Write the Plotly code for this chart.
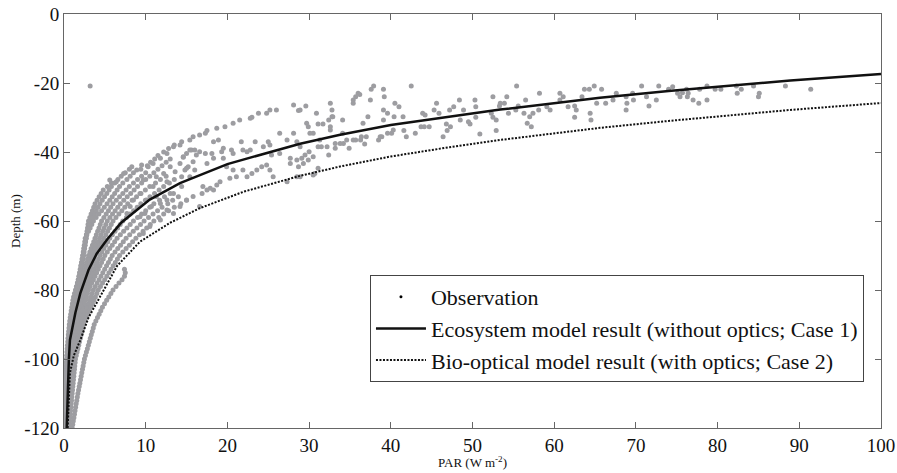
import plotly.graph_objects as go

# ---------------- data ----------------
# measurement depth levels of the deep profiles (1 m spacing)
DEPTH_LEVELS = list(range(-120, -37))

# PAR of individual observed profiles, starting at -120 m and going up 1 m per value
PROFILE_1 = [0.05, 0.06, 0.06, 0.07, 0.08, 0.08, 0.09, 0.10, 0.10, 0.11, 0.12,
             0.14, 0.16, 0.17, 0.19, 0.21, 0.23, 0.25, 0.26, 0.28, 0.30,
             0.33, 0.36, 0.39, 0.42, 0.46, 0.49, 0.53, 0.57, 0.61, 0.65,
             0.70, 0.76, 0.82, 0.88, 0.95, 1.02, 1.09, 1.17, 1.28, 1.40,
             1.52, 1.64, 1.76, 1.88, 2.00, 2.08, 2.16, 2.24, 2.32, 2.40,
             2.46, 2.52, 2.58, 2.64, 2.70, 2.76, 2.82, 2.88, 2.94, 3.00,
             3.16, 3.32, 3.48, 3.64, 3.80, 4.05, 4.30, 4.55, 4.80, 5.30, 5.80]
PROFILE_2 = [0.08, 0.10, 0.11, 0.13, 0.14, 0.16, 0.17, 0.19, 0.20, 0.22, 0.23,
             0.25, 0.26, 0.28, 0.29, 0.31, 0.32, 0.34, 0.35, 0.37, 0.38,
             0.42, 0.46, 0.50, 0.54, 0.58, 0.62, 0.66, 0.70, 0.74, 0.78,
             0.85, 0.92, 1.00, 1.07, 1.14, 1.21, 1.28, 1.36, 1.43, 1.50,
             1.58, 1.66, 1.74, 1.82, 1.90, 1.98, 2.06, 2.14, 2.22, 2.30,
             2.36, 2.42, 2.48, 2.54, 2.60, 2.74, 2.88, 3.02, 3.16, 3.30,
             3.52, 3.74, 3.96, 4.18, 4.40, 4.68, 4.96, 5.24, 5.52, 5.80,
             6.2, 6.6, 7.0, 7.5, 8.0]
PROFILE_3 = [0.10, 0.11, 0.12, 0.13, 0.14, 0.15, 0.16, 0.17, 0.18, 0.19, 0.20,
             0.22, 0.25, 0.27, 0.30, 0.32, 0.35, 0.37, 0.40, 0.42, 0.45,
             0.49, 0.54, 0.58, 0.63, 0.67, 0.72, 0.76, 0.81, 0.85, 0.90,
             0.97, 1.04, 1.11, 1.18, 1.25, 1.32, 1.39, 1.46, 1.53, 1.60,
             1.67, 1.74, 1.81, 1.88, 1.95, 2.02, 2.09, 2.16, 2.23, 2.30,
             2.38, 2.47, 2.55, 2.63, 2.72, 2.80, 3.0, 3.2, 3.4, 3.6,
             3.93, 4.27, 4.6, 4.93, 5.27, 5.6, 5.9, 6.2, 6.5, 6.8,
             7.2, 7.7, 8.1, 8.5, 9.4, 10.2, 10.6, 11.1, 11.5, 12.2, 12.8, 13.5]
PROFILE_4 = [0.15, 0.17, 0.19, 0.21, 0.23, 0.25, 0.27, 0.29, 0.31, 0.33, 0.35,
             0.37, 0.39, 0.41, 0.43, 0.45, 0.47, 0.49, 0.51, 0.53, 0.55,
             0.60, 0.64, 0.69, 0.73, 0.78, 0.82, 0.87, 0.91, 0.96, 1.00,
             1.08, 1.16, 1.24, 1.32, 1.40, 1.48, 1.56, 1.64, 1.72, 1.80,
             1.92, 2.04, 2.16, 2.28, 2.40, 2.52, 2.64, 2.76, 2.88, 3.00,
             3.16, 3.32, 3.48, 3.64, 3.80, 3.96, 4.12, 4.28, 4.44, 4.60,
             4.88, 5.16, 5.44, 5.72, 6.00, 6.4, 6.8, 7.2, 7.6, 8.0,
             8.5, 9.0, 9.5, 10.0]
PROFILE_5 = [0.22, 0.24, 0.27, 0.29, 0.31, 0.34, 0.36, 0.38, 0.40, 0.43, 0.45,
             0.47, 0.50, 0.52, 0.54, 0.57, 0.59, 0.61, 0.63, 0.66, 0.68,
             0.73, 0.77, 0.82, 0.87, 0.92, 0.96, 1.01, 1.06, 1.10, 1.15,
             1.24, 1.33, 1.42, 1.51, 1.60, 1.69, 1.78, 1.87, 1.96, 2.05,
             2.19, 2.32, 2.46, 2.59, 2.73, 2.86, 3.00, 3.13, 3.27, 3.40,
             3.59, 3.78, 3.97, 4.16, 4.35, 4.54, 4.73, 4.92, 5.11, 5.30,
             5.62, 5.94, 6.26, 6.58, 6.90, 7.32, 7.74, 8.16, 8.58, 9.00,
             9.5, 10.0, 10.5, 11.0, 11.5, 12.0, 12.5, 13.0]
PROFILE_6 = [0.30, 0.33, 0.35, 0.38, 0.40, 0.43, 0.45, 0.48, 0.50, 0.53, 0.55,
             0.58, 0.60, 0.63, 0.65, 0.68, 0.70, 0.73, 0.75, 0.78, 0.80,
             0.85, 0.90, 0.95, 1.00, 1.05, 1.10, 1.15, 1.20, 1.25, 1.30,
             1.40, 1.50, 1.60, 1.70, 1.80, 1.90, 2.00, 2.10, 2.20, 2.30,
             2.45, 2.60, 2.75, 2.90, 3.05, 3.20, 3.35, 3.50, 3.65, 3.80,
             4.02, 4.24, 4.46, 4.68, 4.90, 5.12, 5.34, 5.56, 5.78, 6.00,
             6.36, 6.72, 7.08, 7.44, 7.80, 8.34, 8.88, 9.42, 9.96, 10.5,
             11.2, 11.8, 12.5]
PROFILE_7 = [0.32, 0.35, 0.38, 0.41, 0.44, 0.47, 0.49, 0.52, 0.55, 0.58, 0.61,
             0.64, 0.67, 0.70, 0.73, 0.76, 0.78, 0.81, 0.84, 0.87, 0.90,
             0.97, 1.03, 1.10, 1.16, 1.23, 1.29, 1.36, 1.42, 1.49, 1.55,
             1.66, 1.77, 1.88, 1.99, 2.10, 2.21, 2.32, 2.43, 2.54, 2.65,
             2.83, 3.00, 3.18, 3.35, 3.53, 3.70, 3.88, 4.05, 4.23, 4.40,
             4.64, 4.88, 5.12, 5.36, 5.60, 5.92, 6.24, 6.56, 6.88, 7.20,
             7.64, 8.08, 8.52, 8.96, 9.40, 9.96, 10.52, 11.08, 11.64, 12.20,
             12.9, 13.5]
PROFILE_8 = [0.35, 0.38, 0.42, 0.45, 0.48, 0.51, 0.55, 0.58, 0.61, 0.64, 0.68,
             0.71, 0.74, 0.77, 0.81, 0.84, 0.87, 0.90, 0.94, 0.97, 1.00,
             1.08, 1.16, 1.24, 1.32, 1.40, 1.48, 1.56, 1.64, 1.72, 1.80,
             1.92, 2.04, 2.16, 2.28, 2.40, 2.52, 2.64, 2.76, 2.88, 3.00,
             3.2, 3.4, 3.6, 3.8, 4.0, 4.2, 4.4, 4.6, 4.8, 5.0,
             5.3, 5.6, 5.9, 6.2, 6.5, 6.9, 7.3, 7.7, 8.1, 8.5,
             9.0, 9.5, 10.0, 10.5, 11.0, 11.7, 12.3, 13.0]
PROFILE_9 = [0.48, 0.52, 0.55, 0.59, 0.62, 0.66, 0.70, 0.73, 0.77, 0.80, 0.84,
             0.88, 0.91, 0.95, 0.98, 1.02, 1.06, 1.09, 1.13, 1.16, 1.20,
             1.29, 1.38, 1.47, 1.56, 1.65, 1.74, 1.83, 1.92, 2.01, 2.10,
             2.25, 2.40, 2.55, 2.70, 2.85, 3.00, 3.15, 3.30, 3.45, 3.60,
             3.83, 4.06, 4.29, 4.52, 4.75, 4.98, 5.21, 5.44, 5.67, 5.90,
             6.24, 6.58, 6.92, 7.26, 7.60, 8.04, 8.48, 8.92, 9.36, 9.80,
             10.35, 10.9, 11.45, 12.0, 12.7, 13.3, 14.0]
PROFILE_10 = [0.60, 0.64, 0.68, 0.72, 0.76, 0.80, 0.84, 0.88, 0.92, 0.96, 1.00,
              1.04, 1.08, 1.12, 1.16, 1.20, 1.24, 1.28, 1.32, 1.36, 1.40,
              1.5, 1.6, 1.7, 1.8, 1.9, 2.0, 2.1, 2.2, 2.3, 2.4,
              2.58, 2.76, 2.94, 3.12, 3.30, 3.48, 3.66, 3.84, 4.02, 4.20,
              4.46, 4.72, 4.98, 5.24, 5.50, 5.76, 6.02, 6.28, 6.54, 6.80,
              7.2, 7.6, 8.0, 8.4, 8.8, 9.24, 9.68, 10.12, 10.56, 11.0,
              11.6, 12.2, 12.8, 13.5, 14.3, 15.0]
PROFILE_11 = [1.00, 1.07, 1.14, 1.21, 1.28, 1.35, 1.42, 1.49, 1.56, 1.63, 1.70,
              1.78, 1.86, 1.94, 2.02, 2.10, 2.18, 2.26, 2.34, 2.42, 2.50,
              2.62, 2.74, 2.86, 2.98, 3.10, 3.22, 3.34, 3.46, 3.58, 3.70,
              3.9, 4.1, 4.3, 4.5, 4.7, 4.96, 5.22, 5.48, 5.74, 6.0,
              6.37, 6.73, 7.1, 7.4, 7.5, 7.4]

# scattered near-surface observations (PAR, depth)
SCATTER_LOW = [
    (3.2, -20.9),
    (5.6, -48.1), (6.4, -48.6), (7.3, -46.2), (8.3, -44.3), (8.9, -45.2), (9.5, -43.8),
    (10.3, -44.3), (10.9, -43.3), (11.8, -41.8), (12.6, -40.4), (13.4, -38.5), (14.2, -38.0),
    (9.7, -48.1), (10.9, -50.0), (11.3, -47.2), (12.2, -46.2), (12.6, -48.6), (13.0, -44.3),
    (13.6, -45.7), (14.2, -43.3), (13.4, -52.0), (12.6, -53.9), (11.8, -54.9), (10.7, -55.8),
    (9.9, -57.8), (9.3, -58.8), (8.5, -53.9), (8.1, -55.8), (7.7, -57.8), (9.3, -52.0),
    (10.1, -53.9), (11.3, -52.9), (13.4, -57.8), (11.8, -59.7), (10.5, -61.6), (9.7, -63.6),
    (12.6, -56.8), (14.2, -55.8), (14.4, -50.0), (15.0, -53.9), (15.8, -52.9), (16.6, -55.8),
    (17.0, -50.0), (18.3, -51.0), (14.6, -41.4), (15.0, -44.7), (15.6, -39.4), (16.2, -40.9),
    (15.4, -47.2),
]
SCATTER_MID = [
    (28.1, -26.4), (25.2, -27.8), (28.7, -28.0), (23.8, -28.8), (23.0, -29.9), (21.5, -30.7),
    (20.7, -31.7), (19.7, -32.7), (18.7, -33.1), (17.5, -33.8), (17.3, -34.6), (16.6, -35.1),
    (15.8, -35.6), (15.4, -36.5), (14.4, -37.0), (26.4, -34.6), (28.1, -34.6), (28.5, -37.0),
    (27.3, -36.5), (25.0, -37.0), (25.2, -38.0), (23.4, -37.0), (22.8, -39.4), (21.7, -37.0),
    (21.9, -39.4), (20.5, -39.4), (19.5, -38.9), (18.3, -37.0), (18.9, -36.5), (19.3, -39.9),
    (18.1, -40.4), (17.3, -40.4), (16.6, -39.9), (16.0, -39.4), (15.4, -39.4), (15.0, -40.4),
    (14.6, -41.5), (15.8, -42.8), (15.2, -44.3), (16.0, -45.2), (14.8, -45.2), (14.4, -47.2),
    (17.5, -43.3), (18.3, -41.8), (19.5, -41.8), (20.7, -40.4), (22.4, -39.9), (24.4, -38.5),
    (25.4, -40.9), (26.4, -40.4), (27.7, -41.8), (28.5, -42.3), (27.7, -43.3), (28.7, -44.3),
    (24.2, -44.3), (24.8, -43.8), (25.2, -45.2), (25.6, -47.2), (23.0, -46.2), (22.4, -47.2),
    (21.1, -47.2), (20.3, -47.6), (19.1, -48.6), (18.7, -49.6), (17.9, -50.5), (17.5, -51.0),
    (16.9, -52.0), (23.6, -45.2), (21.9, -45.2), (19.9, -44.3), (20.7, -45.2), (27.3, -48.6),
    (28.5, -47.2), (22.8, -30.2), (26.0, -27.8), (24.8, -28.8),
]
SCATTER_HIGH = [
    (55.4, -20.9), (42.5, -20.9), (37.9, -20.9), (37.6, -21.8), (39.1, -21.8), (39.2, -24.0),
    (36.0, -23.0), (35.7, -24.0), (36.2, -23.3), (35.4, -24.9), (35.4, -25.9), (37.5, -24.9),
    (32.6, -25.9), (32.8, -27.8), (32.8, -29.8), (29.6, -26.7), (28.9, -27.8), (30.9, -28.8),
    (29.7, -31.7), (31.1, -31.9), (31.7, -31.9), (29.9, -32.7), (30.1, -34.6), (30.5, -34.6),
    (32.6, -32.7), (32.6, -33.6), (32.4, -30.7), (32.9, -29.8), (34.1, -30.7), (34.1, -34.6),
    (34.2, -37.5), (33.8, -37.5), (33.2, -38.9), (32.4, -40.9), (31.5, -38.5), (31.1, -38.5),
    (30.5, -41.4), (29.5, -40.9), (29.1, -41.8), (30.0, -39.9), (28.9, -38.5), (30.7, -46.2),
    (31.1, -44.7), (30.5, -46.7), (34.9, -38.9), (35.4, -36.5), (35.7, -36.5), (36.3, -36.5),
    (36.6, -31.7), (37.0, -35.6), (36.8, -37.7), (37.2, -29.8), (38.5, -36.5), (38.7, -35.6),
    (38.9, -35.6), (39.1, -27.8), (39.6, -28.8), (39.1, -30.7), (39.6, -34.6), (40.1, -34.6),
    (40.3, -33.6), (40.5, -25.9), (41.0, -26.9), (40.4, -29.8), (41.5, -29.8), (41.6, -33.8),
    (41.9, -35.6), (43.0, -34.6), (43.9, -28.8), (44.2, -29.3), (43.7, -32.7), (44.1, -32.7),
    (44.7, -32.7), (45.3, -27.8), (45.6, -25.9), (45.9, -28.8), (46.4, -35.6), (46.8, -31.9),
    (46.9, -33.8), (47.2, -27.8), (47.3, -32.7), (47.7, -26.9), (48.4, -24.9), (48.5, -30.7),
    (48.9, -27.8), (49.5, -31.2), (49.7, -31.9), (50.3, -24.9), (50.4, -26.9), (50.4, -29.9),
    (50.9, -34.8), (52.3, -28.8), (52.5, -24.0), (52.5, -29.9), (52.9, -30.7), (52.9, -33.8),
    (53.3, -26.7), (53.4, -25.9), (53.9, -25.9), (54.2, -24.0), (54.4, -28.8), (55.3, -27.8),
    (55.6, -26.7), (56.3, -28.8), (56.5, -24.9), (56.7, -31.7), (57.0, -29.8), (57.2, -32.7),
    (57.4, -28.8), (58.1, -27.8), (58.2, -23.0), (59.1, -26.9), (59.5, -27.8), (60.7, -23.0),
    (61.1, -24.0), (60.7, -24.9), (61.7, -26.9), (62.5, -26.7), (62.7, -27.8), (62.5, -29.9),
    (63.4, -24.0), (63.7, -21.8), (64.3, -21.8), (64.4, -28.8), (64.5, -30.7), (64.9, -20.9),
    (65.2, -25.9), (29.3, -43.3), (29.9, -42.3), (28.9, -47.2), (31.3, -36.5), (32.2, -38.5),
    (33.2, -37.5), (34.6, -36.5), (36.4, -35.6),
    (65.8, -21.8), (66.3, -25.9), (67.2, -24.9), (67.6, -23.0), (68.8, -24.0), (68.9, -25.9),
    (68.8, -27.8), (69.6, -23.0), (69.7, -24.9), (70.7, -20.9), (71.3, -24.0), (71.6, -26.7),
    (72.5, -24.9), (72.8, -20.9), (74.0, -21.8), (74.5, -21.1), (75.1, -23.0), (75.4, -24.0),
    (75.7, -22.8), (76.2, -21.8), (76.3, -24.0), (76.4, -23.0), (77.0, -24.9), (77.7, -25.9),
    (77.8, -21.8), (78.7, -20.9), (78.7, -24.9), (79.7, -21.8), (80.4, -21.8), (82.3, -20.9),
    (82.4, -23.0), (82.9, -21.8), (84.4, -20.9), (85.1, -23.0), (85.0, -24.0), (88.3, -20.9),
    (91.4, -21.8),
]

# model curves
ECO_PAR = [0.33, 0.45, 0.6, 0.73, 1.0, 1.4, 2.0, 3.0, 4.0, 5.3, 7.0, 10.5, 14.2, 20,
           28.9, 33.8, 40, 47.2, 53.4, 65.6, 74, 88.9, 100]
ECO_DEPTH = [-120, -108, -100, -94.5, -91, -86.5, -80.9, -74.2, -69.5, -65.3, -60.5, -53.8,
             -49.0, -43.5, -37.6, -35.0, -32.2, -29.7, -27.7, -24.3, -22.3, -19.3, -17.4]
BIO_PAR = [0.45, 0.6, 0.73, 1.2, 2.0, 3.0, 4.4, 6.5, 9.3, 13, 16.6, 22, 28.9, 33.8, 40,
           47.2, 53.4, 65.6, 74, 88.9, 100]
BIO_DEPTH = [-120, -110, -104, -99, -94.5, -88, -82, -73, -66, -60.5, -56.3, -51.5, -46.9,
             -44.2, -41.3, -38.6, -36.5, -33, -31, -27.8, -25.8]

X_TICKS = [0, 10, 20, 30, 40, 50, 60, 70, 80, 90, 100]
Y_TICKS = [-120, -100, -80, -60, -40, -20, 0]
Y_TICK_LABELS = ["-120", "-100", "-80", "-60", "-40", "-20", "0"]

LEGEND_NAMES = ["Observation",
                "Ecosystem model result (without optics; Case 1)",
                "Bio-optical model result (with optics; Case 2)"]

# ---------------- figure ----------------
FONT = "Liberation Serif, Times New Roman, serif"
GRAY = "#9d9da1"

profiles = [PROFILE_1, PROFILE_2, PROFILE_3, PROFILE_4, PROFILE_5, PROFILE_6,
            PROFILE_7, PROFILE_8, PROFILE_9, PROFILE_10, PROFILE_11]
obs_x, obs_y = [], []
for prof in profiles:
    obs_x += prof
    obs_y += DEPTH_LEVELS[:len(prof)]
for group in (SCATTER_LOW, SCATTER_MID, SCATTER_HIGH):
    for p, d in group:
        obs_x.append(p)
        obs_y.append(d)

fig = go.Figure()
fig.add_trace(go.Scatter(x=obs_x, y=obs_y, mode="markers", showlegend=False,
                         marker=dict(color=GRAY, size=5, line=dict(width=0)),
                         hoverinfo="skip"))
fig.add_trace(go.Scatter(x=[None], y=[None], mode="markers", name=LEGEND_NAMES[0],
                         marker=dict(color="black", size=3)))
fig.add_trace(go.Scatter(x=ECO_PAR, y=ECO_DEPTH, mode="lines", name=LEGEND_NAMES[1],
                         line=dict(color="#111111", width=2.5)))
fig.add_trace(go.Scatter(x=BIO_PAR, y=BIO_DEPTH, mode="lines", name=LEGEND_NAMES[2],
                         line=dict(color="#111111", width=2, dash="2px,1.5px")))

axis_common = dict(showgrid=False, zeroline=False, showline=True, linecolor="#666666",
                   linewidth=1, mirror="ticks", ticks="inside", ticklen=6,
                   tickcolor="#666666", automargin=False,
                   tickfont=dict(family=FONT, size=19, color="#111111"))

fig.update_xaxes(range=[0, 100], tickvals=X_TICKS, **axis_common)
fig.update_yaxes(range=[-120, 0], tickvals=Y_TICKS, ticktext=Y_TICK_LABELS, **axis_common)

fig.add_annotation(text="PAR (W m<sup>-2</sup>)", xref="paper", yref="paper",
                   x=0.5, y=-0.082, yanchor="middle", showarrow=False,
                   font=dict(family=FONT, size=13, color="#111111"))
fig.add_annotation(text="Depth (m)", xref="paper", yref="paper", x=-0.06, y=0.5,
                   textangle=-90, showarrow=False, xanchor="center", yanchor="middle",
                   font=dict(family=FONT, size=13, color="#111111"))

fig.update_layout(
    width=897, height=473, autosize=False,
    margin=dict(l=64, r=16, t=14, b=45, autoexpand=False),
    plot_bgcolor="white", paper_bgcolor="white",
    hovermode=False,
    legend=dict(x=0.3745, y=0.3696, xanchor="left", yanchor="top",
                bgcolor="white", bordercolor="#444444", borderwidth=1,
                itemwidth=50, tracegroupgap=0,
                font=dict(family=FONT, size=22, color="#111111")),
)

fig.write_html("out.html",
               config={"displayModeBar": False},
               post_script="document.body.style.margin='0px';"
                           "document.body.style.overflow='hidden';")
